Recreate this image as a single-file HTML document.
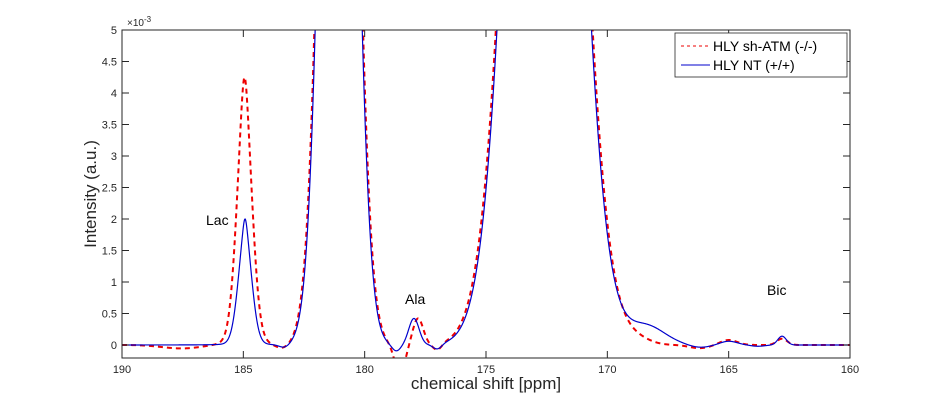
<!DOCTYPE html>
<html><head><style>
body{margin:0;background:#fff;width:941px;height:402px;overflow:hidden}
text{font-family:"Liberation Sans",sans-serif}
</style></head><body>
<svg id="s" width="941" height="402" xmlns="http://www.w3.org/2000/svg">
<defs><clipPath id="c"><rect x="122" y="30" width="728" height="328"/></clipPath></defs>
<rect width="941" height="402" fill="#fff"/>
<g id="curves" clip-path="url(#c)"></g>
<rect x="122" y="30" width="728" height="328" fill="none" stroke="#262626" stroke-width="1"/>
<g id="ticks" stroke="#262626" stroke-width="1"></g>
<g id="labels" font-size="11" fill="#262626"></g>
<text x="127" y="26" font-size="10" fill="#262626">×10<tspan dy="-4" font-size="8">-3</tspan></text>
<text x="486" y="389" font-size="17" text-anchor="middle" fill="#262626">chemical shift [ppm]</text>
<text transform="translate(96,194) rotate(-90)" font-size="17" text-anchor="middle" fill="#262626">Intensity (a.u.)</text>
<text x="206" y="225" font-size="14">Lac</text>
<text x="405" y="304" font-size="14">Ala</text>
<text x="767" y="295" font-size="14">Bic</text>
<rect x="675" y="33" width="172" height="44" fill="#fff" stroke="#262626" stroke-width="0.8"/>
<line x1="681" y1="46" x2="710" y2="46" stroke="#e00" stroke-width="1" stroke-dasharray="3,3"/>
<line x1="681" y1="65" x2="710" y2="65" stroke="#00c" stroke-width="1"/>
<text x="713" y="51" font-size="14">HLY sh-ATM (-/-)</text>
<text x="713" y="70" font-size="14">HLY NT (+/+)</text>
</svg>
<script>
var X=function(p){return 122+(190-p)*728/30},Y=function(v){return 345-v*63};
function G(x,c,h,w){return h*Math.exp(-Math.pow((x-c)/w,2))}
function L(x,c,h,w){return h*w*w/(w*w+(x-c)*(x-c))}
function blue(x){return G(x,184.93,1.55,0.4)+L(x,184.93,0.45,0.15)+G(x,181.07,19,0.84)+G(x,177.97,0.42,0.3)
 +G(x,172.6,19.5,1.67)+G(x,168.4,0.3,1.1)+G(x,165,0.06,0.5)+G(x,162.8,0.14,0.25)
 -G(x,183.3,0.05,0.3)-G(x,178.7,0.1,0.25)-G(x,177.0,0.08,0.25)-G(x,166.2,0.04,0.6)-G(x,163.8,0.02,0.4)}
function red(x){return G(x,184.95,3.3,0.45)+L(x,184.95,0.95,0.2)+G(x,181.07,19.5,0.86)+G(x,177.8,0.42,0.3)
 +G(x,172.6,19.5,1.71)+G(x,168.8,0.08,0.8)+G(x,165,0.08,0.5)+G(x,162.8,0.1,0.3)
 -G(x,187.5,0.06,1.2)-G(x,183.4,0.07,0.4)-G(x,178.55,0.45,0.3)-G(x,177.0,0.1,0.25)-G(x,166.2,0.05,0.6)}
function path(f){var d="";for(var p=190;p>=160;p-=0.01){d+=(d?"L":"M")+X(p).toFixed(2)+","+Y(Math.max(-1,Math.min(8,f(p)))).toFixed(2)}return d}
var NS="http://www.w3.org/2000/svg",g=document.getElementById("curves");
function add(f,col,dash){var e=document.createElementNS(NS,"path");e.setAttribute("d",path(f));e.setAttribute("fill","none");e.setAttribute("stroke",col);e.setAttribute("stroke-width",dash?"2":"1.2");if(dash)e.setAttribute("stroke-dasharray","5,4");g.appendChild(e)}
add(red,"#e00",1);add(blue,"#00c",0);
var t=document.getElementById("ticks"),lb=document.getElementById("labels");
function ln(a,b,c,d){var e=document.createElementNS(NS,"line");e.setAttribute("x1",a);e.setAttribute("y1",b);e.setAttribute("x2",c);e.setAttribute("y2",d);t.appendChild(e)}
function tx(x,y,s,a){var e=document.createElementNS(NS,"text");e.setAttribute("x",x);e.setAttribute("y",y);e.setAttribute("text-anchor",a);e.textContent=s;lb.appendChild(e)}
for(var k=0;k<=6;k++){var p=190-5*k,x=X(p);ln(x,358,x,351);ln(x,30,x,37);tx(x,373,String(p),"middle")}
for(var k=0;k<=10;k++){var v=k*0.5,y=Y(v);ln(122,y,129,y);ln(850,y,843,y);tx(117,y+4,String(v),"end")}
</script>
</body></html>
